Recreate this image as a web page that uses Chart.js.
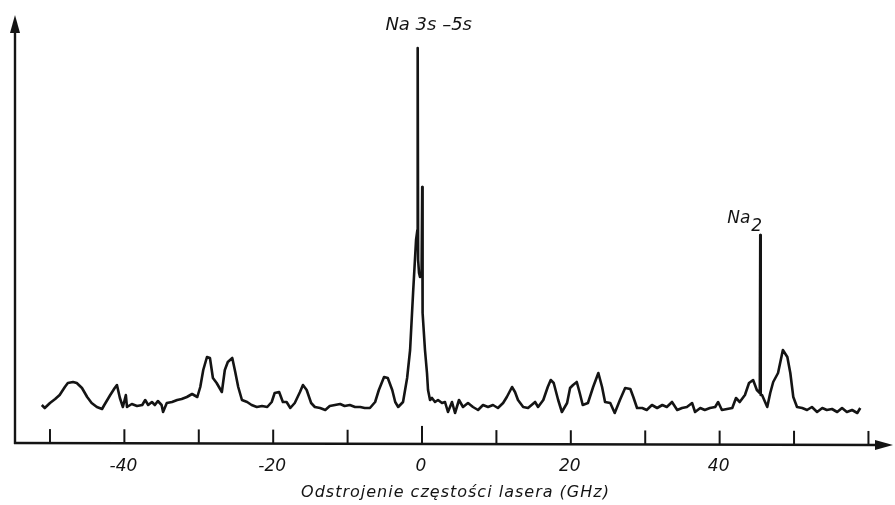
<!DOCTYPE html>
<html lang="pl">
<head>
<meta charset="utf-8">
<title>Widmo Na 3s–5s</title>
<script src="https://cdn.jsdelivr.net/npm/chart.js@4/dist/chart.umd.min.js"></script>
<style>
  html, body { margin: 0; padding: 0; background: #fff; }
  #wrap { width: 895px; height: 505px; }
</style>
</head>
<body>
<div id="wrap"><canvas id="spectrum"></canvas></div>
<script>
/* ─────────────────────────────────────────
   Two-photon Na 3s–5s spectrum vs laser detuning
   ───────────────────────────────────────── */

// ─── Data ───────────────────────────────
// detuning (GHz)
const freqGHz = [
  -51.1, -50.7, -50.0, -49.3, -48.7, -48.0, -47.6, -46.9, -46.4, -45.7,
  -45.0, -44.4, -43.7, -43.0, -42.7, -41.9, -41.3, -41.0, -40.6, -40.2,
  -39.8, -39.65, -39.0, -38.3, -37.6, -37.2, -36.8, -36.3, -35.9, -35.5,
  -35.0, -34.8, -34.3, -33.6, -32.9, -32.3, -31.6, -30.9, -30.2, -29.8,
  -29.4, -28.9, -28.5, -28.1, -27.6, -26.9, -26.5, -26.1, -25.5, -25.1,
  -24.7, -24.2, -23.5, -22.9, -22.2, -21.5, -20.8, -20.2, -19.8, -19.2,
  -18.7, -18.2, -17.7, -17.1, -16.4, -16.0, -15.5, -14.9, -14.4, -13.7,
  -13.0, -12.4, -11.7, -11.0, -10.4, -9.7, -9.0, -8.3, -7.7, -7.0,
  -6.3, -5.8, -5.1, -4.6, -4.0, -3.6, -3.2, -2.55, -2.0, -1.6,
  -1.2, -0.8, -0.62, -0.58, -0.52, -0.40, -0.27, -0.06, 0.03, 0.08,
  0.40, 0.67, 0.81, 1.08, 1.34, 1.75, 2.15, 2.69, 3.09, 3.49,
  4.03, 4.44, 4.97, 5.51, 6.18, 6.85, 7.53, 8.20, 8.87, 9.54,
  10.2, 10.9, 11.4, 12.1, 12.5, 12.9, 13.6, 14.25, 15.2, 15.6,
  16.3, 16.9, 17.3, 17.7, 18.3, 18.8, 19.5, 19.9, 20.3, 20.8,
  21.2, 21.6, 22.3, 23.0, 23.7, 24.2, 24.6, 25.3, 25.9, 26.6,
  27.3, 28.0, 28.4, 28.9, 29.6, 30.2, 30.9, 31.6, 32.3, 32.9,
  33.6, 34.3, 34.95, 35.6, 36.3, 36.7, 37.4, 38.0, 38.7, 39.4,
  39.8, 40.3, 41.0, 41.7, 42.2, 42.7, 43.4, 43.95, 44.5, 45.0,
  45.4, 45.46, 45.52, 45.7, 46.4, 46.8, 47.2, 47.85, 48.5, 49.1,
  49.5, 49.9, 50.4, 51.1, 51.75, 52.4, 53.1, 53.8, 54.4, 55.1,
  55.8, 56.45, 57.1, 57.8, 58.5, 58.9
];

// fluorescence signal (a.u.)
const signal = [
  9.5, 8.75, 10, 11, 12, 14, 15, 15.25, 15, 13.75,
  11.5, 10, 9, 8.5, 9.5, 12, 13.75, 14.5, 11.25, 9,
  12, 9, 9.75, 9.25, 9.5, 10.75, 9.5, 10.25, 9.5, 10.5,
  9.5, 7.75, 10, 10.25, 10.75, 11, 11.5, 12.25, 11.5, 14,
  18.25, 21.5, 21.25, 16.25, 15, 12.75, 18.25, 20.25, 21.25, 17.75,
  14, 10.75, 10.25, 9.5, 9, 9.25, 9, 10.25, 12.5, 12.75,
  10.25, 10.25, 8.75, 10, 12.75, 14.5, 13.25, 10, 9, 8.75,
  8.25, 9.25, 9.5, 9.75, 9.25, 9.5, 9, 9, 8.75, 8.75,
  10.25, 13.25, 16.5, 16.25, 13.25, 10.25, 9, 10.25, 16.25, 23.25,
  37.5, 50.75, 53.25, 98.75, 45.75, 42.5, 41.5, 42, 64, 32.5,
  23.25, 17.5, 13.25, 10.75, 11.25, 10.25, 10.75, 10, 10.25, 7.75,
  10.25, 7.5, 10.75, 9, 10, 9, 8.25, 9.5, 9, 9.5,
  8.75, 10, 11.5, 14, 12.75, 10.75, 9, 8.75, 10.25, 9,
  10.75, 14, 15.75, 15, 10.75, 7.75, 10, 13.75, 14.5, 15.25,
  12.5, 9.5, 10, 14, 17.5, 14, 10.25, 10, 7.5, 10.75,
  13.75, 13.5, 11.5, 8.75, 8.75, 8.25, 9.5, 8.75, 9.5, 9,
  10.25, 8.25, 8.75, 9, 10, 7.75, 8.75, 8.25, 8.75, 9,
  10.25, 8.25, 8.5, 8.75, 11.25, 10.25, 12, 15, 15.75, 13.25,
  12.5, 52, 12, 12, 9, 12.5, 15.25, 17.5, 23.25, 21.5,
  17.5, 11.5, 9, 8.75, 8.25, 9, 7.75, 8.75, 8.25, 8.5,
  7.75, 8.75, 7.75, 8.25, 7.5, 8.75
];

// axis ticks
const tickValues = [-50, -40, -30, -20, -10, 0, 10, 20, 30, 40, 50, 60];
const tickLabels = [-40, -20, 0, 20, 40];
const axisTitle = "Odstrojenie częstości lasera (GHz)";

const INK = "#141414";
const FONT = "'DejaVu Sans', sans-serif";

// ─── Axes, arrows, labels ───────────────
const axesPlugin = {
  id: "arrowAxes",
  afterDraw(chart) {
    const { ctx, chartArea: a, scales: { x, y } } = chart;
    const y0 = y.getPixelForValue(0);
    const xl = a.left;
    const tilt = px => (px - xl) / (a.right - xl) * 2;
    ctx.save();
    ctx.strokeStyle = INK;
    ctx.fillStyle = INK;
    ctx.lineWidth = 2.4;

    // vertical axis + arrow
    ctx.beginPath();
    ctx.moveTo(xl, y0 + 1);
    ctx.lineTo(xl, a.top + 14);
    ctx.stroke();
    ctx.beginPath();
    ctx.moveTo(xl, a.top);
    ctx.lineTo(xl - 5, a.top + 18);
    ctx.lineTo(xl + 5, a.top + 18);
    ctx.closePath();
    ctx.fill();

    // horizontal axis + arrow
    ctx.beginPath();
    ctx.moveTo(xl - 1, y0);
    ctx.lineTo(a.right - 14, y0 + tilt(a.right));
    ctx.stroke();
    ctx.beginPath();
    ctx.moveTo(a.right, y0 + 2);
    ctx.lineTo(a.right - 18, y0 - 3);
    ctx.lineTo(a.right - 18, y0 + 7);
    ctx.closePath();
    ctx.fill();

    // tick marks pointing up into the plot
    ctx.lineWidth = 2;
    tickValues.forEach(v => {
      const px = x.getPixelForValue(v);
      const len = v === 0 ? 18 : 14;
      const yb = y0 + tilt(px);
      ctx.beginPath();
      ctx.moveTo(px, yb);
      ctx.lineTo(px, yb - len);
      ctx.stroke();
    });

    // tick labels + axis title
    ctx.textAlign = "center";
    ctx.textBaseline = "middle";
    ctx.font = `italic 17px ${FONT}`;
    tickLabels.forEach(v => {
      ctx.fillText(String(v), x.getPixelForValue(v) - 1, y0 + 24);
    });
    ctx.font = `italic 16px ${FONT}`;
    ctx.letterSpacing = "1px";
    ctx.fillText(axisTitle, x.getPixelForValue(4.5), y0 + 50);
    ctx.letterSpacing = "0px";

    // peak labels
    ctx.textBaseline = "alphabetic";
    const iMain = signal.indexOf(Math.max(...signal));
    const mx = x.getPixelForValue(freqGHz[iMain]);
    const my = y.getPixelForValue(signal[iMain]);
    ctx.font = `italic 18px ${FONT}`;
    ctx.fillText("Na 3s \u20135s", mx + 11, my - 18);

    const iDimer = freqGHz.indexOf(45.46);
    const dx = x.getPixelForValue(freqGHz[iDimer]);
    const dy = y.getPixelForValue(signal[iDimer]);
    ctx.textAlign = "left";
    ctx.font = `italic 17px ${FONT}`;
    ctx.fillText("Na", dx - 33, dy - 12);
    ctx.fillText("2", dx - 9, dy - 4);
    ctx.restore();
  },
};

// ─── Chart ──────────────────────────────
new Chart(document.getElementById("spectrum"), {
  type: "line",
  data: {
    datasets: [
      {
        data: freqGHz.map((f, i) => ({ x: f, y: signal[i] })),
        borderColor: INK,
        borderWidth: 2.6,
        borderJoinStyle: "round",
        pointRadius: 0,
        tension: 0,
        fill: false,
      },
    ],
  },
  options: {
    responsive: true,
    maintainAspectRatio: false,
    animation: false,
    layout: { padding: { left: 15, right: 2, top: 15, bottom: 62 } },
    plugins: { legend: { display: false }, tooltip: { enabled: false } },
    scales: {
      x: { type: "linear", display: false, min: -54.7, max: 63.3 },
      y: { display: false, min: 0, max: 107 },
    },
  },
  plugins: [axesPlugin],
});
</script>
</body>
</html>
